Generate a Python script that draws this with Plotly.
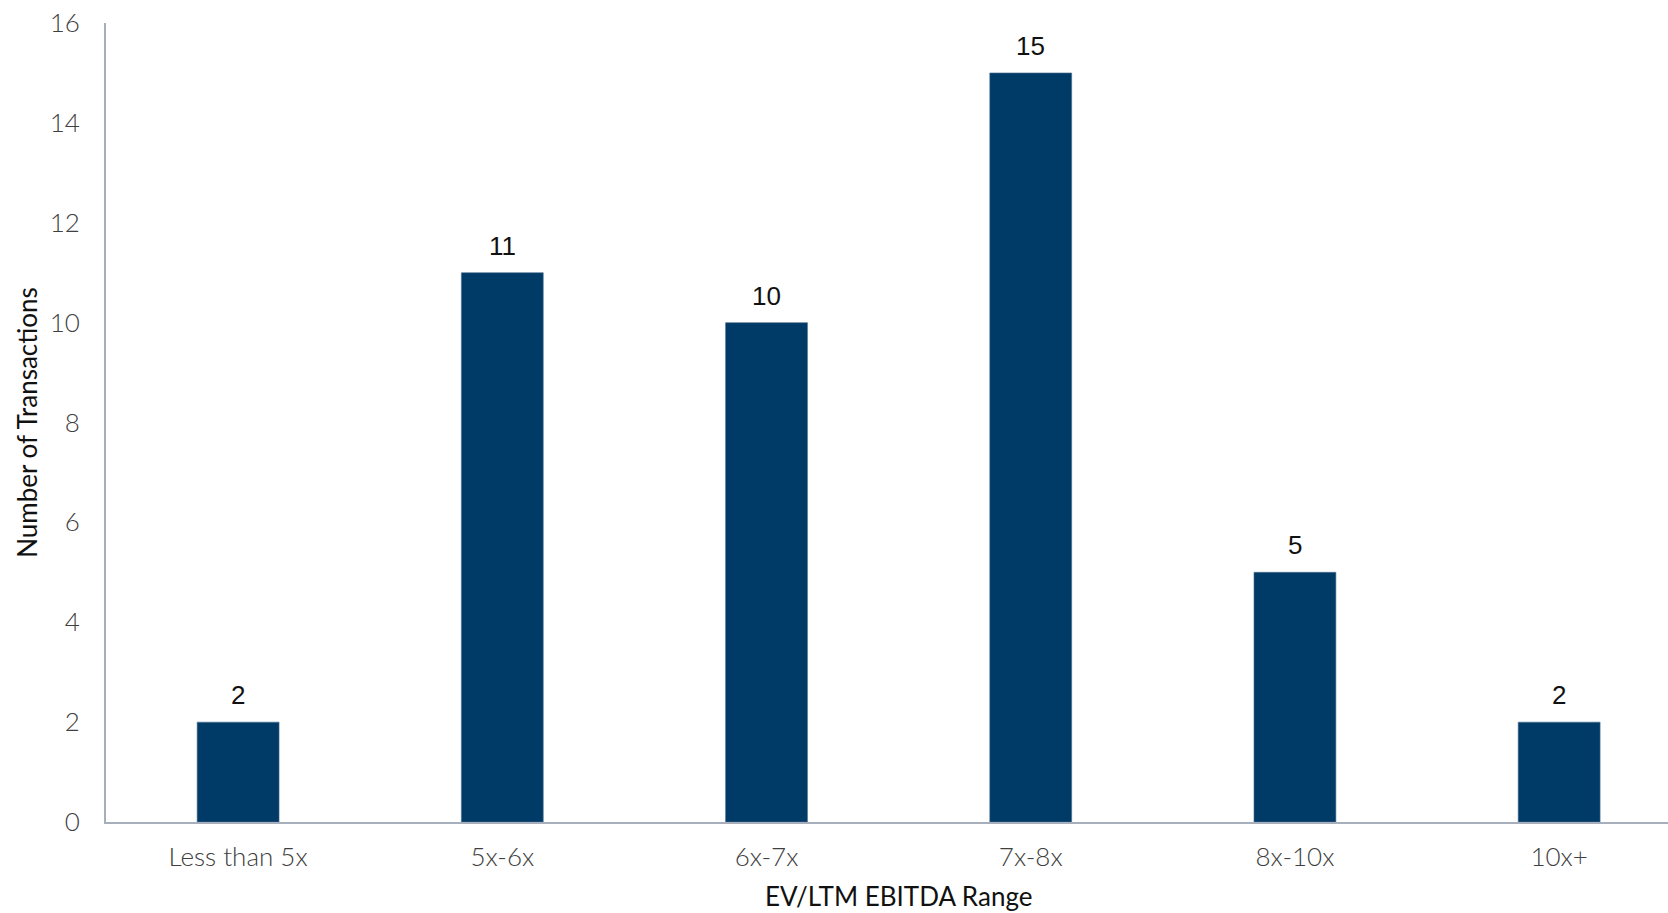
import plotly.graph_objects as go

categories = ["Less than 5x", "5x-6x", "6x-7x", "7x-8x", "8x-10x", "10x+"]
values = [2, 11, 10, 15, 5, 2]
y_ticks = [0, 2, 4, 6, 8, 10, 12, 14, 16]
x_title = "EV/LTM EBITDA Range"
y_title = "Number of Transactions"

bar_color = "#003A66"
axis_color = "#A7AFBD"

fig = go.Figure()
fig.add_trace(go.Bar(
    x=list(range(len(categories))), y=values,
    marker=dict(color=bar_color, line=dict(color="#4D7191", width=0.6)),
    width=0.31,
))

for i, v in enumerate(values):
    fig.add_annotation(x=i, y=v, text=str(v), showarrow=False,
                       yanchor="bottom", yshift=10,
                       font=dict(family="Liberation Sans, Arial", size=26, color="#111111"))

# x-axis title centred on the full category span (the plot runs past the right edge)
fig.add_annotation(x=(len(categories) - 1) / 2, xref="x", y=0, yref="paper",
                   text=x_title, showarrow=False, yanchor="middle", yshift=-74,
                   borderpad=0,
                   font=dict(family="Lato", size=26, color="#111111"))

fig.update_layout(
    width=1668, height=913,
    margin=dict(l=106, r=0, t=23, b=91),
    plot_bgcolor="white", paper_bgcolor="white",
    showlegend=False,
    font=dict(family="Lato", color="#333333"),
    xaxis=dict(
        range=[-0.5, 5.412],
        tickmode="array", tickvals=list(range(len(categories))), ticktext=categories,
        showline=True, linecolor=axis_color, linewidth=2,
        showgrid=False, zeroline=False, ticks="",
        tickfont=dict(family="Lato", size=26, color="#404040", weight=300),
        ticklabelstandoff=11,
    ),
    yaxis=dict(
        range=[0, 16],
        tickmode="array", tickvals=y_ticks,
        showline=True, linecolor=axis_color, linewidth=2,
        showgrid=False, zeroline=False, ticks="",
        tickfont=dict(family="Lato", size=26, color="#404040", weight=300),
        ticklabelstandoff=19,
        title=dict(text=y_title, standoff=5,
                   font=dict(family="Lato", size=26, color="#111111")),
    ),
)

fig.write_html("out.html")
